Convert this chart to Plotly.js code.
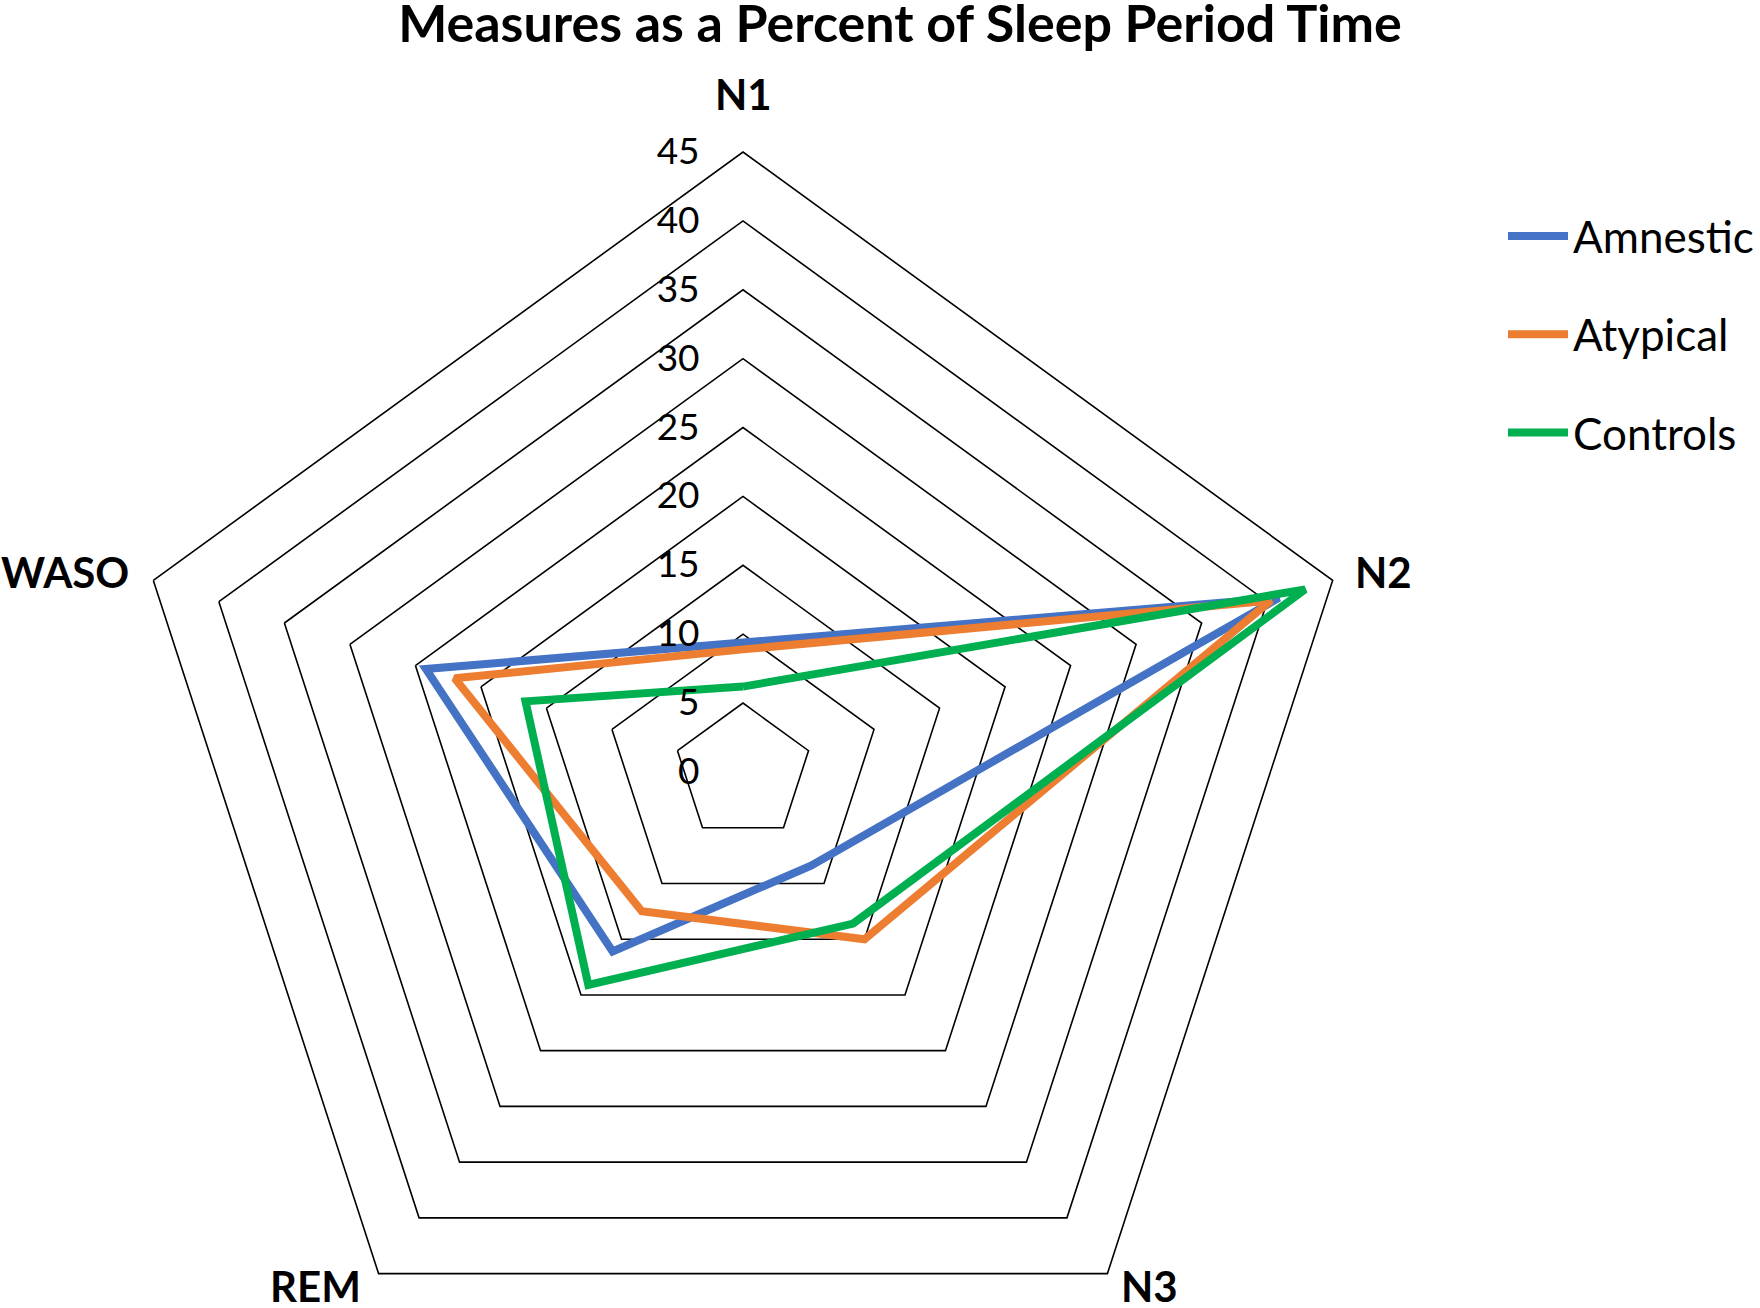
<!DOCTYPE html>
<html>
<head>
<meta charset="utf-8">
<script src="https://cdn.plot.ly/plotly-3.0.1.min.js"></script>
<style>
  html, body { margin: 0; padding: 0; overflow: hidden; background: #fff; }
  #chart { width: 1760px; height: 1400px; }
</style>
</head>
<body>
<div id="chart"></div>
<script>
// ---- data ----
const categories = ["N1", "N2", "N3", "REM", "WASO"];
const amnestic = [9.4, 40.9, 8.4, 16.1, 24.2];
const atypical = [8.9, 40.3, 15.0, 12.5, 22.0];
const controls = [6.2, 42.9, 13.6, 19.1, 16.6];
const seriesNames = ["Amnestic", "Atypical", "Controls"];
const radialTicks = [0, 5, 10, 15, 20, 25, 30, 35, 40, 45];
const radialMax = 45;

const seriesValues = [amnestic, atypical, controls];
const colors = ["#4472C4", "#ED7D31", "#00B050"];
const FONT = "Lato, 'Open Sans', sans-serif";

const traces = seriesValues.map((vals, i) => ({
  type: "scatterpolar",
  mode: "lines",
  name: seriesNames[i],
  legendgroup: seriesNames[i],
  r: vals.concat([vals[0]]),
  theta: categories.concat([categories[0]]),
  line: { color: colors[i], width: 8, shape: "linear" },
  hoverinfo: "skip"
}));

const W = 1760, H = 1400;
const cx = 743, cy = 772, R = 620;

// Category labels placed just outside each outer vertex (Excel style)
const catAnnotations = categories.map((c, k) => {
  const ang = (90 - k * 360 / categories.length) * Math.PI / 180;
  const vx = cx + R * Math.cos(ang), vy = cy - R * Math.sin(ang);
  const cosA = Math.cos(ang), sinA = Math.sin(ang);
  let px, py, xa, ya;
  if (Math.abs(cosA) < 0.2) {          // top
    px = vx; py = vy - 31; xa = "center"; ya = "bottom";
  } else if (sinA > 0) {               // upper sides
    px = vx + (cosA > 0 ? 20 : -22); py = vy - 8; xa = cosA > 0 ? "left" : "right"; ya = "middle";
  } else {                             // lower sides
    px = vx + (cosA > 0 ? 12 : -16); py = vy + 12; xa = cosA > 0 ? "left" : "right"; ya = "middle";
  }
  return {
    text: c, showarrow: false,
    xref: "paper", yref: "paper",
    x: px / W, y: 1 - py / H, xanchor: xa, yanchor: ya,
    font: { family: FONT, size: 42, weight: "bold", color: "#000" }
  };
});

const layout = {
  width: W, height: H,
  margin: { l: 0, r: 0, t: 0, b: 0 },
  paper_bgcolor: "#ffffff",
  plot_bgcolor: "#ffffff",
  font: { family: FONT, color: "#000000" },
  showlegend: true,
  title: {
    text: "Measures as a Percent of Sleep Period Time",
    font: { family: FONT, size: 52, weight: "bold", color: "#000" },
    x: 900 / W, xanchor: "center", xref: "paper",
    y: 1 - 24 / H, yanchor: "middle", yref: "paper"
  },
  annotations: catAnnotations,
  legend: {
    x: 1503 / W, xanchor: "left",
    y: 1 - 201 / H, yanchor: "top",
    font: { family: FONT, size: 44, color: "#000" },
    traceorder: "grouped",
    tracegroupgap: 38,
    itemwidth: 60,
    bgcolor: "rgba(0,0,0,0)"
  },
  polar: {
    domain: {
      x: [(cx - R) / W, (cx + R) / W],
      y: [(H - cy - R) / H, (H - cy + R) / H]
    },
    gridshape: "linear",
    bgcolor: "#ffffff",
    angularaxis: {
      type: "category",
      categoryarray: categories,
      direction: "clockwise",
      rotation: 90,
      showgrid: false,
      showline: true,
      linecolor: "#000",
      linewidth: 1.6,
      ticks: "",
      showticklabels: false
    },
    radialaxis: {
      range: [0, radialMax],
      tickvals: radialTicks,
      ticktext: radialTicks.map(String),
      angle: 90,
      side: "counterclockwise",
      tickangle: 90,
      showline: false,
      showgrid: true,
      gridcolor: "#000",
      gridwidth: 1.6,
      ticks: "outside",
      ticklen: 30,
      tickcolor: "rgba(0,0,0,0)",
      tickfont: { family: FONT, size: 37, color: "#000" }
    }
  }
};

Plotly.newPlot("chart", traces, layout, { staticPlot: true, displayModeBar: false });
</script>
</body>
</html>
